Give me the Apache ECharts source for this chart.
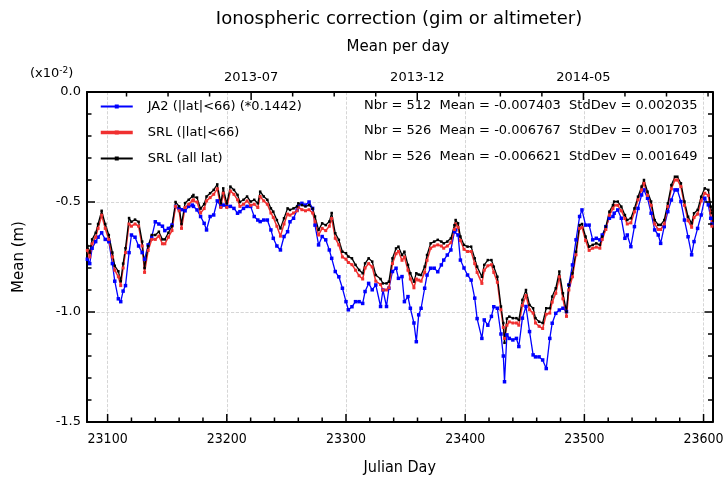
<!DOCTYPE html>
<html><head><meta charset="utf-8">
<script src="https://cdn.jsdelivr.net/npm/echarts@6/dist/echarts.min.js"></script>
<style>html,body{margin:0;padding:0;background:#fff}#c{width:725px;height:477px}</style>
</head><body><div id="c"></div>
<script>
// ---- data (values in units of 1e-2 m) ----
const days = [
23083,23085,23087,23090,23092,23095,23098,23101,23104,23106,23109,23111,23113,23115,23118,23120,23123,23126,23129,23131,23134,23137,23140,23143,23146,23148,23151,23154,23157,23160,23162,23165,23168,23171,
23172,23175,23178,23181,23183,23186,23189,23192,23195,23197,23200,23203,23206,23209,23211,23214,23217,23220,23223,23226,23228,23231,23234,23237,23239,23242,23245,23248,23251,23253,23256,23259,
23260,23263,23266,23269,23272,23274,23277,23280,23283,23286,23288,23291,23294,23297,23300,23302,23305,23308,23311,23314,23316,23319,23322,23325,23329,23331,23334,23336,23339,23342,23344,23347,
23349,23352,23354,23357,23359,23361,23363,23366,23368,23371,23374,23377,23380,23382,23385,23388,23391,23392,23394,23396,23399,23402,23405,23408,23410,23414,23416,23419,23422,23424,23427,23430,23432,23433,23435,
23437,23440,23443,23445,23448,23451,23454,23457,23459,23462,23465,23468,23471,23473,23476,23479,23482,23485,23487,23490,23493,23496,23498,23501,23504,23507,23510,23513,23515,23518,23521,23524,
23525,23528,23531,23534,23536,23539,23542,23545,23548,23550,23553,23556,23559,23562,23564,23567,23570,23573,23576,23578,23581,23584,23587,23590,23592,23595,23598,23601,23604,23606,23607
];
const srlAll = [
-0.70,-0.73,-0.67,-0.64,-0.60,-0.54,-0.60,-0.65,-0.73,-0.79,-0.815,-0.86,-0.78,-0.71,-0.573,-0.59,-0.58,-0.59,-0.68,-0.80,-0.70,-0.65,-0.65,-0.635,-0.67,-0.67,-0.64,-0.61,-0.50,-0.52,-0.60,-0.505,-0.49,-0.475,
-0.468,-0.48,-0.53,-0.51,-0.475,-0.46,-0.445,-0.42,-0.506,-0.438,-0.506,-0.43,-0.445,-0.468,-0.50,-0.49,-0.475,-0.498,-0.49,-0.506,-0.453,-0.475,-0.49,-0.529,-0.544,-0.582,-0.62,-0.574,-0.529,-0.536,-0.529,-0.52,
-0.506,-0.514,-0.52,-0.514,-0.53,-0.566,-0.627,-0.597,-0.605,-0.589,-0.55,-0.642,-0.672,-0.726,-0.733,-0.748,-0.756,-0.786,-0.809,-0.824,-0.779,-0.756,-0.771,-0.832,-0.85,-0.87,-0.87,-0.862,-0.756,-0.711,-0.703,-0.741,
-0.726,-0.786,-0.824,-0.862,-0.824,-0.83,-0.832,-0.794,-0.741,-0.688,-0.68,-0.672,-0.68,-0.688,-0.68,-0.665,-0.605,-0.582,-0.597,-0.657,-0.695,-0.703,-0.703,-0.756,-0.794,-0.84,-0.786,-0.764,-0.764,-0.794,-0.84,-0.975,-1.05,-1.14,-1.03,
-1.021,-1.028,-1.028,-1.036,-0.945,-0.90,-0.968,-0.983,-1.028,-1.044,-1.05,-0.983,-0.983,-0.93,-0.892,-0.816,-0.915,-0.998,-0.877,-0.824,-0.726,-0.605,-0.60,-0.657,-0.703,-0.695,-0.688,-0.695,-0.657,-0.612,-0.544,-0.514,
-0.498,-0.498,-0.521,-0.559,-0.582,-0.574,-0.529,-0.476,-0.43,-0.40,-0.453,-0.498,-0.582,-0.604,-0.604,-0.582,-0.506,-0.423,-0.385,-0.385,-0.415,-0.498,-0.567,-0.597,-0.551,-0.536,-0.476,-0.438,-0.445,-0.521,-0.55
];
const srl66 = [
-0.72,-0.75,-0.69,-0.66,-0.62,-0.56,-0.62,-0.67,-0.75,-0.81,-0.84,-0.88,-0.80,-0.73,-0.60,-0.61,-0.60,-0.61,-0.70,-0.82,-0.72,-0.67,-0.67,-0.655,-0.69,-0.69,-0.66,-0.63,-0.52,-0.54,-0.62,-0.525,-0.51,-0.495,
-0.49,-0.50,-0.55,-0.53,-0.495,-0.48,-0.465,-0.44,-0.525,-0.46,-0.525,-0.45,-0.465,-0.49,-0.52,-0.51,-0.495,-0.515,-0.51,-0.525,-0.475,-0.495,-0.51,-0.55,-0.57,-0.61,-0.655,-0.60,-0.555,-0.56,-0.55,-0.54,
-0.525,-0.535,-0.54,-0.535,-0.55,-0.59,-0.65,-0.62,-0.63,-0.61,-0.575,-0.665,-0.695,-0.75,-0.76,-0.775,-0.785,-0.81,-0.835,-0.85,-0.80,-0.78,-0.795,-0.86,-0.875,-0.90,-0.90,-0.89,-0.78,-0.735,-0.725,-0.765,
-0.75,-0.81,-0.85,-0.89,-0.85,-0.855,-0.86,-0.82,-0.765,-0.71,-0.70,-0.695,-0.70,-0.71,-0.70,-0.685,-0.625,-0.60,-0.615,-0.675,-0.715,-0.725,-0.725,-0.78,-0.82,-0.87,-0.81,-0.79,-0.785,-0.82,-0.865,-0.99,-1.07,-1.12,-1.06,
-1.045,-1.05,-1.05,-1.06,-0.97,-0.925,-0.99,-1.005,-1.05,-1.065,-1.075,-1.01,-1.005,-0.955,-0.915,-0.84,-0.94,-1.02,-0.90,-0.84,-0.74,-0.62,-0.615,-0.675,-0.72,-0.71,-0.705,-0.71,-0.67,-0.625,-0.56,-0.53,
-0.515,-0.515,-0.54,-0.575,-0.60,-0.595,-0.545,-0.49,-0.445,-0.415,-0.47,-0.515,-0.60,-0.625,-0.625,-0.60,-0.52,-0.44,-0.40,-0.40,-0.43,-0.515,-0.585,-0.615,-0.57,-0.555,-0.495,-0.46,-0.47,-0.55,-0.61
];
const ja2 = [
-0.76,-0.78,-0.71,-0.68,-0.66,-0.64,-0.67,-0.68,-0.78,-0.86,-0.94,-0.953,-0.905,-0.88,-0.73,-0.65,-0.66,-0.70,-0.73,-0.76,-0.695,-0.66,-0.59,-0.60,-0.61,-0.63,-0.62,-0.605,-0.52,-0.53,-0.535,-0.54,-0.52,-0.514,
-0.52,-0.536,-0.566,-0.597,-0.627,-0.566,-0.559,-0.495,-0.52,-0.514,-0.52,-0.52,-0.529,-0.551,-0.544,-0.529,-0.52,-0.52,-0.566,-0.582,-0.589,-0.582,-0.582,-0.627,-0.665,-0.70,-0.718,-0.657,-0.635,-0.59,-0.574,-0.536,
-0.52,-0.506,-0.514,-0.50,-0.529,-0.605,-0.695,-0.657,-0.672,-0.718,-0.756,-0.816,-0.84,-0.892,-0.953,-0.99,-0.976,-0.953,-0.953,-0.961,-0.907,-0.87,-0.899,-0.877,-0.975,-0.90,-0.975,-0.892,-0.816,-0.801,-0.847,-0.839,
-0.953,-0.93,-0.983,-1.05,-1.135,-1.013,-0.983,-0.892,-0.832,-0.801,-0.801,-0.817,-0.786,-0.764,-0.741,-0.718,-0.635,-0.627,-0.65,-0.764,-0.80,-0.832,-0.855,-0.937,-1.03,-1.12,-1.036,-1.06,-1.02,-0.976,-0.983,-1.10,-1.20,-1.317,-1.104,
-1.12,-1.127,-1.12,-1.157,-1.028,-0.975,-1.089,-1.195,-1.204,-1.204,-1.218,-1.257,-1.12,-1.051,-1.006,-0.991,-0.983,-0.998,-0.877,-0.786,-0.672,-0.566,-0.536,-0.605,-0.605,-0.672,-0.665,-0.672,-0.65,-0.612,-0.574,-0.566,
-0.551,-0.536,-0.574,-0.665,-0.65,-0.703,-0.612,-0.529,-0.468,-0.445,-0.483,-0.551,-0.627,-0.65,-0.688,-0.612,-0.544,-0.491,-0.445,-0.445,-0.498,-0.582,-0.658,-0.74,-0.68,-0.62,-0.559,-0.483,-0.513,-0.574,-0.60
];
const seriesNames = ['JA2 (|lat|<66) (*0.1442)', 'SRL (|lat|<66)', 'SRL (all lat)'];
const statsTexts = [
  'Nbr = 512  Mean = -0.007403  StdDev = 0.002035',
  'Nbr = 526  Mean = -0.006767  StdDev = 0.001703',
  'Nbr = 526  Mean = -0.006621  StdDev = 0.001649'
];
const topLabels = ['2013-07', '2013-12', '2014-05'];
const titleText = 'Ionospheric correction (gim or altimeter)';
const subTitleText = 'Mean per day';

// ---- layout constants ----
const W = 725, H = 477;
const GRID = {left: 87, right: 12.5, top: 92, bottom: 55};
const X_MIN = 23082.7, X_MAX = 23607.5, Y_MIN = -1.5, Y_MAX = 0;
// top date axis: one minor step = TOP_STEP days, label "2013-07" at TOP_REF days (4th minor step)
const TOP_REF = 23220.4, TOP_STEP = 34.85;
const topU = jd => (jd - TOP_REF) / TOP_STEP + 4;
const FONT = 'DejaVu Sans';
const MAJOR_LEN = 8, MINOR_LEN = 4.5;

const chart = echarts.init(document.getElementById('c'));
const colors = ['#0000ff', '#f03030', '#000000'];
function pairs(vals) { return days.map((d, i) => [d, vals[i]]); }
function frame() { return {show: true, onZero: false, lineStyle: {color: '#000', width: 2}}; }
const dashed = () => ({show: true, lineStyle: {type: 'dashed', color: '#cccccc', width: 0.8}});
const textEl = (x, y, text, font, align) => ({type: 'text', x: x, y: y, z: 20,
  style: {text: text, align: align || 'left', verticalAlign: 'middle', font: font, fill: '#000'}});

const baseGraphic = [
  textEl(399, 19, titleText, '18px "DejaVu Sans"', 'center'),
  textEl(398, 47, subTitleText, '15px "DejaVu Sans"', 'center'),
  {type: 'text', x: 30, y: 74, z: 20, style: {text: '(x10{sup|-2})', align: 'left', verticalAlign: 'middle', font: '13px "DejaVu Sans"', fill: '#000',
    rich: {sup: {fontSize: 9, fontFamily: FONT, verticalAlign: 'top', fill: '#000', padding: [0, 0, 6, 0]}}}},
  textEl(364, 106, statsTexts[0], '13px "DejaVu Sans"'),
  textEl(364, 131, statsTexts[1], '13px "DejaVu Sans"'),
  textEl(364, 157, statsTexts[2], '13px "DejaVu Sans"')
];

// ---- inward tick marks along the frame (axis decoration) ----
const xl = GRID.left, xr = W - GRID.right, yt = GRID.top, yb = H - GRID.bottom;
const sx = v => xl + (v - X_MIN) / (X_MAX - X_MIN) * (xr - xl);
const sy = v => yb - (v - Y_MIN) / (Y_MAX - Y_MIN) * (yb - yt);
const tickEls = [];
const seg = (x1, y1, x2, y2) => tickEls.push({type: 'line', z: 50, zlevel: 1, silent: true,
  shape: {x1: x1, y1: y1, x2: x2, y2: y2}, style: {stroke: '#000', lineWidth: 1.5}});
for (let v = 23100; v <= 23600; v += 20) {           // bottom: major every 100, minor every 20
  const x = sx(v), len = (v % 100 === 0) ? MAJOR_LEN : MINOR_LEN;
  seg(x, yb, x, yb - len);
}
for (let k = 1; k <= 15; k++) {                       // top date axis
  const jd = TOP_REF + (k - 4) * TOP_STEP;
  if (jd <= X_MIN || jd >= X_MAX) continue;
  const x = sx(jd), len = (k % 4 === 0) ? MAJOR_LEN : MINOR_LEN;
  seg(x, yt, x, yt + len);
}
for (let i = 1; i < 15; i++) {                        // left and right: major every 0.5, minor every 0.1
  const y = sy(Y_MIN + i * 0.1), len = (i % 5 === 0) ? MAJOR_LEN : MINOR_LEN;
  seg(xl, y, xl + len, y);
  seg(xr, y, xr - len, y);
}

const option = {
  animation: false,
  grid: Object.assign({outerBoundsMode: 'none'}, GRID),
  xAxis: [
    {type: 'value', position: 'bottom', min: X_MIN, max: X_MAX, splitNumber: 5,
      axisLine: frame(), axisTick: {show: false},
      axisLabel: {color: '#000', fontSize: 14, fontFamily: 'DejaVu Sans Condensed', margin: 10,
        formatter: v => (Math.abs(v % 100) < 1e-6 ? String(v) : '')},
      splitLine: dashed(),
      name: 'Julian Day', nameLocation: 'middle', nameGap: 38,
      nameTextStyle: {color: '#000', fontSize: 16, fontFamily: 'DejaVu Sans Condensed'}},
    {type: 'value', position: 'top', min: topU(X_MIN) / 4, max: topU(X_MAX) / 4, splitNumber: 3,
      axisLine: frame(), axisTick: {show: false}, splitLine: {show: false},
      axisLabel: {color: '#000', fontSize: 13, fontFamily: FONT, margin: 8,
        formatter: v => { const k = Math.round(v); return (Math.abs(v - k) < 1e-6 && topLabels[k - 1]) ? topLabels[k - 1] : ''; }}}
  ],
  yAxis: [
    {type: 'value', position: 'left', min: Y_MIN, max: Y_MAX, interval: 0.5,
      axisLine: frame(), axisTick: {show: false},
      axisLabel: {color: '#000', fontSize: 13, fontFamily: FONT, margin: 6, formatter: v => v.toFixed(1)},
      splitLine: dashed(),
      name: 'Mean (m)', nameLocation: 'middle', nameGap: 60, nameRotate: 90,
      nameTextStyle: {color: '#000', fontSize: 15, fontFamily: FONT}},
    {type: 'value', position: 'right', min: Y_MIN, max: Y_MAX, interval: 0.5,
      axisLine: frame(), axisTick: {show: false}, axisLabel: {show: false}, splitLine: {show: false}}
  ],
  legend: {
    orient: 'vertical', left: 94, top: 95, itemWidth: 32, itemHeight: 5, itemGap: 13,
    selectedMode: false,
    textStyle: {color: '#000', fontSize: 13, fontFamily: FONT, padding: [0, 0, 0, 10]},
    data: [
      {name: seriesNames[0]},
      {name: seriesNames[1], lineStyle: {width: 3.5}},
      {name: seriesNames[2]}
    ]
  },
  graphic: baseGraphic.concat(tickEls),
  series: [
    {type: 'line', name: seriesNames[0], xAxisIndex: 0, yAxisIndex: 0, data: pairs(ja2),
      symbol: 'rect', symbolSize: 3.5, showSymbol: true,
      lineStyle: {color: colors[0], width: 1.3}, itemStyle: {color: colors[0]}},
    {type: 'line', name: seriesNames[1], xAxisIndex: 0, yAxisIndex: 0, data: pairs(srl66),
      symbol: 'rect', symbolSize: 3, showSymbol: true,
      lineStyle: {color: colors[1], width: 1.5}, itemStyle: {color: colors[1]}},
    {type: 'line', name: seriesNames[2], xAxisIndex: 0, yAxisIndex: 0, data: pairs(srlAll),
      symbol: 'rect', symbolSize: 2.5, showSymbol: true,
      lineStyle: {color: colors[2], width: 1.3}, itemStyle: {color: colors[2]}}
  ]
};
chart.setOption(option);
</script></body></html>
